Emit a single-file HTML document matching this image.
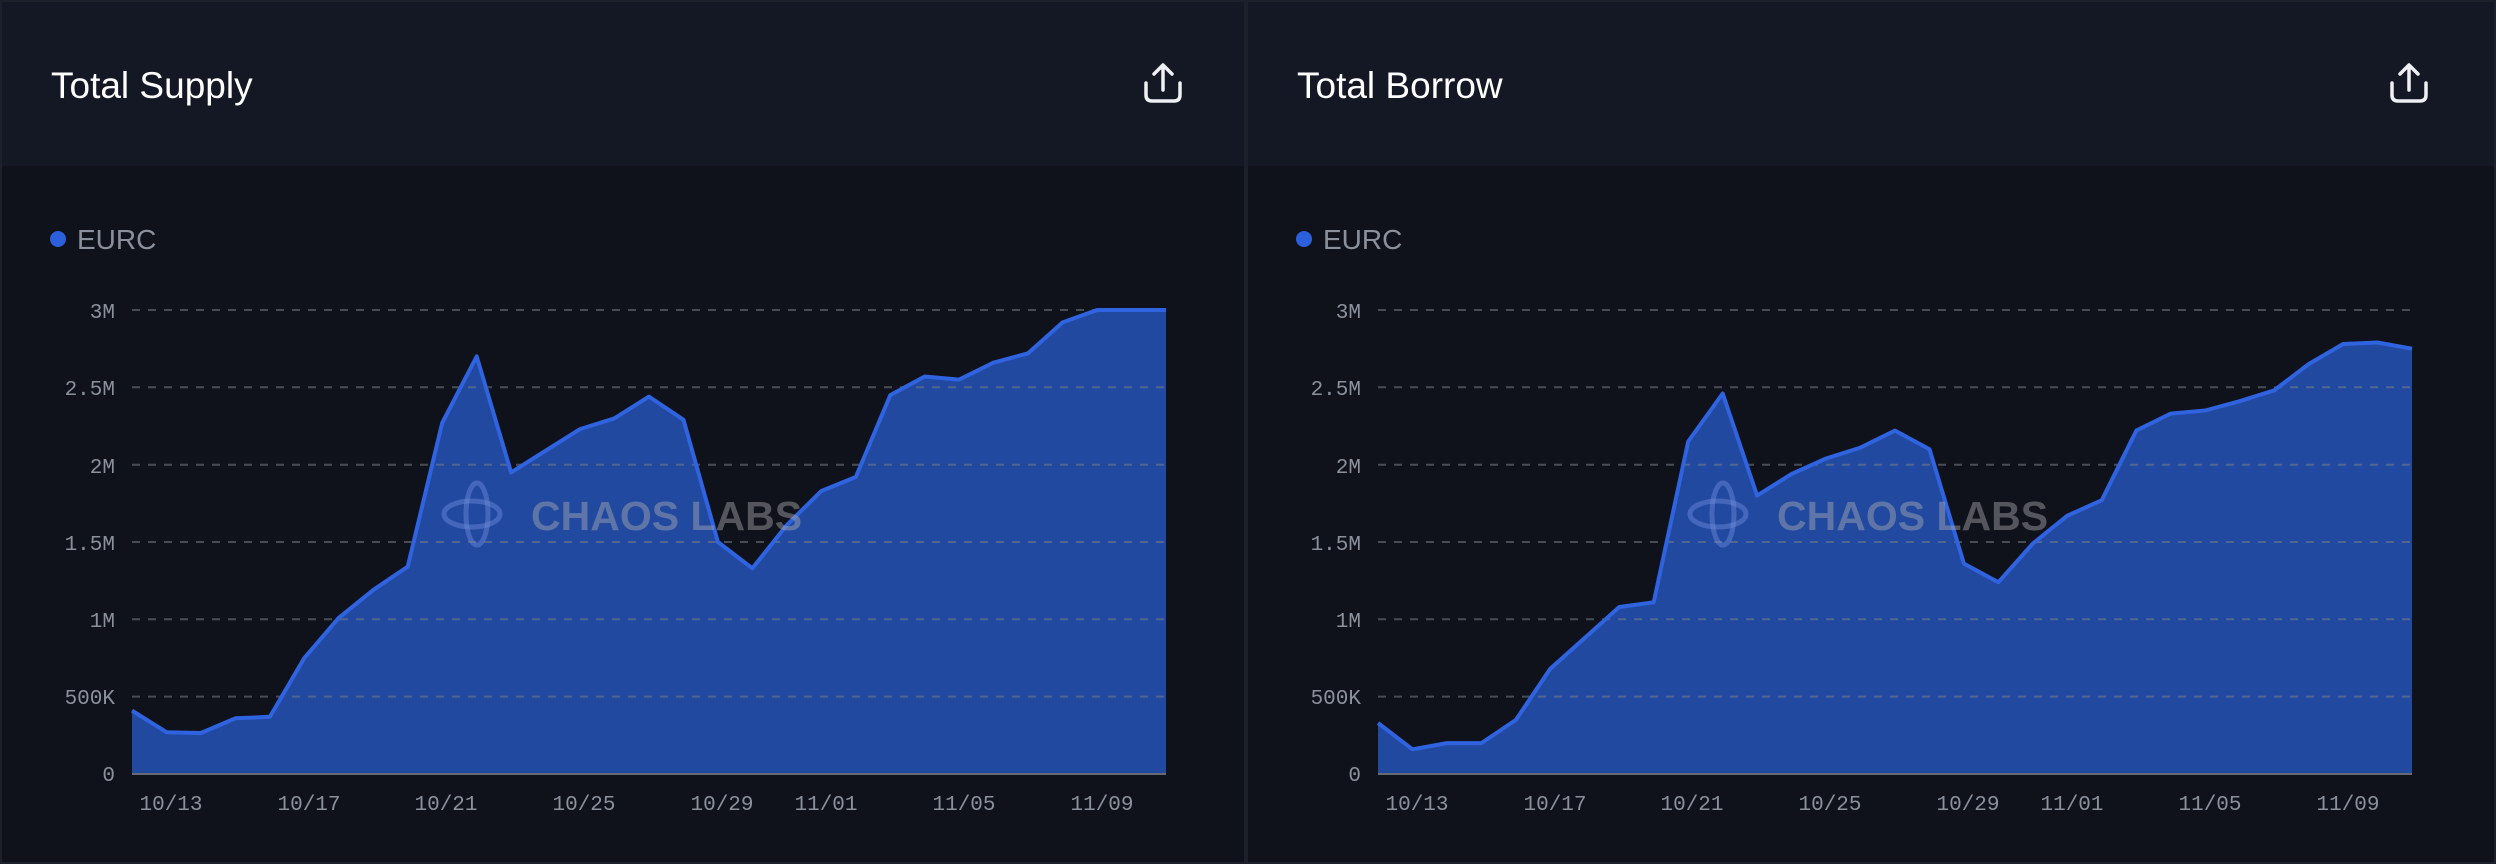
<!DOCTYPE html>
<html><head><meta charset="utf-8"><style>
html,body{margin:0;padding:0;background:#0f121a;}
svg{display:block}
</style></head><body>
<svg id="s" width="2496" height="864" viewBox="0 0 2496 864" xmlns="http://www.w3.org/2000/svg">
<rect width="2496" height="864" fill="#0f121a"/>
<rect x="0" y="0" width="1244" height="166" fill="#141824"/>
<rect x="1248" y="0" width="1248" height="166" fill="#141824"/>
<rect x="1244" y="0" width="4" height="864" fill="#1c202b"/>
<rect x="0" y="0" width="2" height="864" fill="#1c202b"/>
<rect x="2494" y="0" width="2" height="864" fill="#1c202b"/>
<rect x="0" y="0" width="2496" height="2" fill="#1c202b"/>
<rect x="0" y="862" width="2496" height="2" fill="#1c202b"/>

<g font-family="Liberation Sans, sans-serif" fill="#ffffff" font-size="37">
<text x="51" y="98">Total Supply</text>
<text x="1297" y="98">Total Borrow</text>
</g>
<g stroke="#eef0f3" stroke-width="3.5" fill="none" stroke-linecap="round" stroke-linejoin="round">
<path d="M1146 83 v12 q0 6 6 6 h22 q6 0 6 -6 v-12 M1163 90 v-24 M1154 74 l9 -9 l9 9"/>
<path d="M2392 83 v12 q0 6 6 6 h22 q6 0 6 -6 v-12 M2409 90 v-24 M2400 74 l9 -9 l9 9"/>
</g>

<g id="p1"></g>
<g id="p2" transform="translate(1246,0)"></g>

<g font-family="Liberation Sans, sans-serif" font-size="28" fill="#8b919c">
<circle cx="58" cy="239" r="8" fill="#2c5fdc"/><text x="77" y="249">EURC</text>
<circle cx="1304" cy="239" r="8" fill="#2c5fdc"/><text x="1323" y="249">EURC</text>
</g>
<g font-family="Liberation Mono, monospace" font-size="21" fill="#8b919c" text-anchor="end">
<text x="115" y="318">3M</text><text x="115" y="395">2.5M</text><text x="115" y="473">2M</text><text x="115" y="550">1.5M</text><text x="115" y="627">1M</text><text x="115" y="704">500K</text><text x="115" y="781">0</text>
<text x="1361" y="318">3M</text><text x="1361" y="395">2.5M</text><text x="1361" y="473">2M</text><text x="1361" y="550">1.5M</text><text x="1361" y="627">1M</text><text x="1361" y="704">500K</text><text x="1361" y="781">0</text>
</g>
<g font-family="Liberation Mono, monospace" font-size="21" fill="#8b919c" text-anchor="middle">
<text x="171" y="810">10/13</text><text x="309" y="810">10/17</text><text x="446" y="810">10/21</text><text x="584" y="810">10/25</text><text x="722" y="810">10/29</text><text x="826" y="810">11/01</text><text x="964" y="810">11/05</text><text x="1102" y="810">11/09</text>
<text x="1417" y="810">10/13</text><text x="1555" y="810">10/17</text><text x="1692" y="810">10/21</text><text x="1830" y="810">10/25</text><text x="1968" y="810">10/29</text><text x="2072" y="810">11/01</text><text x="2210" y="810">11/05</text><text x="2348" y="810">11/09</text>
</g>
<g font-family="Liberation Sans, sans-serif" font-weight="bold" font-size="41" fill="rgba(170,170,175,0.45)">
<text x="531" y="530">CHAOS LABS</text>
<text x="1777" y="530">CHAOS LABS</text>
</g>
<g fill="none" stroke="rgba(110,140,220,0.45)" stroke-width="5">
<ellipse cx="477" cy="514" rx="11" ry="31"/><ellipse cx="472" cy="514" rx="28" ry="13"/>
<ellipse cx="1723" cy="514" rx="11" ry="31"/><ellipse cx="1718" cy="514" rx="28" ry="13"/>
</g>
</svg>
<script>
var sup=[0.41,0.27,0.265,0.36,0.37,0.75,1.01,1.19,1.34,2.27,2.70,1.95,2.09,2.23,2.30,2.44,2.29,1.50,1.33,1.61,1.83,1.92,2.45,2.57,2.55,2.66,2.72,2.92,3.0,3.0,3.0];
var bor=[0.33,0.16,0.20,0.20,0.35,0.68,0.88,1.08,1.11,2.15,2.46,1.80,1.94,2.04,2.11,2.22,2.10,1.36,1.24,1.49,1.67,1.77,2.22,2.33,2.35,2.41,2.48,2.65,2.78,2.79,2.75];
function build(id,d){
 var g=document.getElementById(id),h="";
 var pts=d.map(function(v,i){return (132+i*1034/30).toFixed(1)+","+(774-v*154.67).toFixed(1)});
 h+='<polygon points="132,774 '+pts.join(" ")+' 1166,774" fill="#2249a0"/>';
 for(var k=0;k<6;k++){var y=(310+k*77.33).toFixed(1);h+='<line x1="132" x2="1166" y1="'+y+'" y2="'+y+'" stroke="rgba(120,125,135,0.55)" stroke-width="2" stroke-dasharray="8,8"/>';}
 h+='<line x1="132" x2="1166" y1="774" y2="774" stroke="#666a72" stroke-width="2"/>';
 h+='<polyline points="'+pts.join(" ")+'" fill="none" stroke="#2f63e0" stroke-width="4" stroke-linejoin="round"/>';
 g.innerHTML=h;
}
build("p1",sup);build("p2",bor);
</script>
</body></html>
